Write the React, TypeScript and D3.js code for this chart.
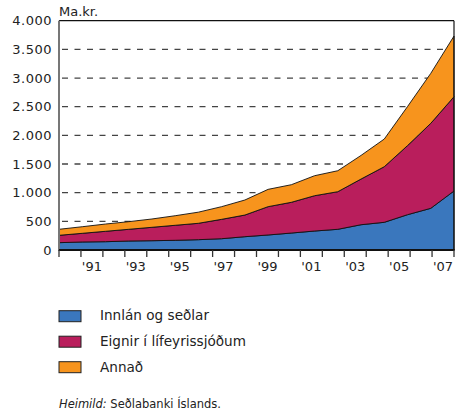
import React from "react";
import * as d3 from "d3";

const years = [1990,1991,1992,1993,1994,1995,1996,1997,1998,1999,2000,2001,2002,2003,2004,2005,2006,2007];
const innlan = [128,140,145,157,162,169,180,197,232,262,296,331,361,441,483,616,727,1029];
const lifeyrir = [128,151,181,204,234,262,286,338,378,494,536,616,656,797,970,1205,1482,1645];
const annad = [105,115,127,133,145,167,194,221,262,302,307,349,366,412,483,681,872,1058];
const yTicks = [0,500,1000,1500,2000,2500,3000,3500,4000];
const xLabelYears = [1991,1993,1995,1997,1999,2001,2003,2005,2007];
const seriesKeys = ["innlan","lifeyrir","annad"];
const seriesNames = ["Innlán og seðlar","Eignir í lífeyrissjóðum","Annað"];
const seriesColors = ["#3a77bd","#b91e5c","#f7941d"];

const L = 59, R = 454, T = 20.7, B = 250;

export default function App() {
  const rows = years.map((y, i) => ({ year: y, innlan: innlan[i], lifeyrir: lifeyrir[i], annad: annad[i] }));
  const stack = d3.stack<any>().keys(seriesKeys)(rows);
  const x = d3.scaleLinear().domain([years[0], years[years.length - 1]]).range([L, R]);
  const band = d3.scaleBand<number>().domain(years).range([L, R]).padding(0);
  const y = d3.scaleLinear().domain([0, 4000]).range([B, T]);
  const area = d3.area<any>().x((d) => x(d.data.year)).y0((d) => y(d[0])).y1((d) => y(d[1]));
  const fmt = (v: number) => (v >= 1000 ? d3.format(",")(v).replace(",", ".") : String(v));
  const tickXs = years.map((yr) => band(yr) as number).concat([R]);
  const font = "'DejaVu Sans', sans-serif";
  return (
    <svg width={456} height={418} style={{ position: "absolute", left: 0, top: 0 }} fontFamily={font}>
      <rect width={456} height={418} fill="#fff" />
      {yTicks.filter((v) => v > 0 && v < 4000).map((v) => (
        <line key={v} x1={L} x2={R} y1={y(v)} y2={y(v)} stroke="#444" strokeWidth={1.3} strokeDasharray="6,6.5" strokeDashoffset={-3} />
      ))}
      {stack.map((s, i) => (
        <path key={i} d={area(s) as string} fill={seriesColors[i]} stroke="#111" strokeWidth={0.9} strokeLinejoin="round" />
      ))}
      <line x1={L} x2={R} y1={y(4000)} y2={y(4000)} stroke="#111" strokeWidth={1.2} />
      <line x1={R} x2={R} y1={y(4000)} y2={B} stroke="#111" strokeWidth={1.2} />
      <line x1={L} x2={L} y1={y(4000)} y2={B + 1} stroke="#777" strokeWidth={2} />
      <line x1={L} x2={R + 0.6} y1={B} y2={B} stroke="#111" strokeWidth={1.8} />
      {tickXs.map((tx, i) => (
        <line key={i} x1={tx} x2={tx} y1={B} y2={B + 7} stroke="#333" strokeWidth={1.3} />
      ))}
      {yTicks.map((v) => (
        <text key={v} x={52} y={y(v)} dy="0.36em" textAnchor="end" fontSize={13} letterSpacing={0.5} fill="#222">{fmt(v)}</text>
      ))}
      <text x={59} y={16} fontSize={13} fill="#222">Ma.kr.</text>
      {xLabelYears.map((yr) => (
        <text key={yr} x={(band(yr) as number) + band.bandwidth() / 2} y={271} textAnchor="middle" fontSize={13} fill="#222">{"'" + String(yr).slice(2)}</text>
      ))}
      {seriesNames.map((n, i) => (
        <g key={n}>
          <rect x={59} y={310.7 + i * 25.5} width={22} height={11} fill={seriesColors[i]} stroke="#222" strokeWidth={1} />
          <text x={100} y={320 + i * 26.2} fontSize={13.6} fill="#222">{n}</text>
        </g>
      ))}
      <text x={59} y={408} fontSize={11.5} fill="#222">
        <tspan fontStyle="italic">Heimild:</tspan> Seðlabanki Íslands.
      </text>
    </svg>
  );
}
